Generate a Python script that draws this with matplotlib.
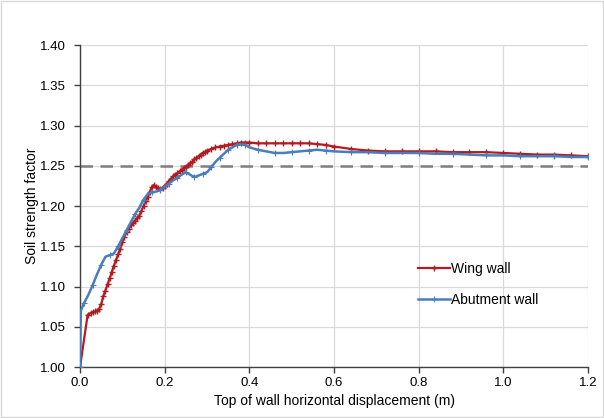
import matplotlib
matplotlib.use("Agg")
import matplotlib.pyplot as plt
from matplotlib.patches import Rectangle

plt.rcParams["font.family"] = ["Liberation Sans", "DejaVu Sans"]

# Wing wall (red)
wing_x = [0.000, 0.018, 0.025, 0.030, 0.035, 0.040, 0.045, 0.050, 0.055, 0.060,
          0.065, 0.070, 0.075, 0.080, 0.085, 0.090, 0.095, 0.100, 0.105, 0.110,
          0.115, 0.120, 0.125, 0.130, 0.135, 0.140, 0.145, 0.150, 0.155, 0.160,
          0.165, 0.170, 0.175, 0.180, 0.185, 0.190, 0.195, 0.200, 0.205, 0.210,
          0.215, 0.220, 0.225, 0.230, 0.235, 0.240, 0.245, 0.250, 0.255, 0.260,
          0.265, 0.270, 0.275, 0.280, 0.285, 0.290, 0.295, 0.300, 0.310, 0.320,
          0.330, 0.340, 0.350, 0.360, 0.370, 0.380, 0.390, 0.400, 0.420, 0.440,
          0.460, 0.480, 0.500, 0.520, 0.540, 0.560, 0.580, 0.600, 0.640, 0.680,
          0.720, 0.760, 0.800, 0.840, 0.880, 0.920, 0.960, 1.000, 1.040, 1.080,
          1.120, 1.160, 1.200]
wing_y = [1.000, 1.065, 1.067, 1.068, 1.069, 1.070, 1.072, 1.078, 1.088, 1.095,
          1.103, 1.110, 1.118, 1.126, 1.133, 1.140, 1.147, 1.155, 1.162, 1.168,
          1.172, 1.176, 1.179, 1.182, 1.185, 1.188, 1.194, 1.200, 1.206, 1.211,
          1.218, 1.224, 1.226, 1.224, 1.222, 1.221, 1.223, 1.225, 1.228, 1.231,
          1.234, 1.237, 1.239, 1.241, 1.243, 1.245, 1.247, 1.249, 1.251, 1.253,
          1.255, 1.258, 1.260, 1.262, 1.264, 1.266, 1.267, 1.269, 1.271, 1.273,
          1.274, 1.275, 1.276, 1.277, 1.278, 1.279, 1.279, 1.279, 1.278, 1.278,
          1.278, 1.278, 1.278, 1.278, 1.278, 1.277, 1.276, 1.274, 1.271, 1.269,
          1.268, 1.268, 1.268, 1.268, 1.267, 1.267, 1.267, 1.266, 1.265, 1.264,
          1.264, 1.263, 1.262]

# Abutment wall (blue)
abut_x = [0.000, 0.002, 0.010, 0.020, 0.030, 0.040, 0.050, 0.060, 0.070, 0.080,
          0.090, 0.100, 0.110, 0.120, 0.130, 0.140, 0.150, 0.160, 0.170, 0.180,
          0.190, 0.200, 0.210, 0.220, 0.230, 0.240, 0.250, 0.260, 0.270, 0.280,
          0.290, 0.300, 0.310, 0.320, 0.330, 0.340, 0.350, 0.360, 0.370, 0.380,
          0.390, 0.400, 0.420, 0.440, 0.460, 0.480, 0.500, 0.520, 0.540, 0.560,
          0.580, 0.600, 0.640, 0.680, 0.720, 0.760, 0.800, 0.840, 0.880, 0.920,
          0.960, 1.000, 1.040, 1.080, 1.120, 1.160, 1.200]
abut_y = [1.000, 1.070, 1.080, 1.090, 1.102, 1.115, 1.127, 1.137, 1.139, 1.141,
          1.150, 1.160, 1.170, 1.180, 1.190, 1.198, 1.208, 1.215, 1.217, 1.218,
          1.220, 1.224, 1.228, 1.232, 1.235, 1.239, 1.242, 1.239, 1.236, 1.238,
          1.240, 1.242, 1.248, 1.255, 1.260, 1.265, 1.270, 1.273, 1.276, 1.277,
          1.276, 1.273, 1.270, 1.268, 1.266, 1.266, 1.267, 1.268, 1.269, 1.270,
          1.269, 1.268, 1.267, 1.267, 1.266, 1.266, 1.266, 1.265, 1.265, 1.264,
          1.263, 1.263, 1.262, 1.262, 1.262, 1.261, 1.261]

target = 1.25

fig = plt.figure(figsize=(6.04, 4.18), dpi=100)
ax = fig.add_axes([0.1325, 0.122, 0.841, 0.770])

ax.axhline(target, color="#7f7f7f", lw=1.8, ls=(0, (5, 3)), zorder=2)
ax.plot(wing_x, wing_y, color="#b01c22", lw=1.6, marker="+", ms=5, mew=1.0,
        label="Wing wall", zorder=3)
ax.plot(abut_x, abut_y, color="#4a7ebb", lw=1.8, marker="+", ms=4, mew=0.8,
        markevery=2, label="Abutment wall", zorder=4)

ax.set_xlim(0, 1.2)
ax.set_ylim(1.0, 1.4)
ax.set_xticks([0.0, 0.2, 0.4, 0.6, 0.8, 1.0, 1.2])
ax.set_xticklabels(["0.0", "0.2", "0.4", "0.6", "0.8", "1.0", "1.2"])
ax.set_yticks([1.00 + 0.05 * i for i in range(9)])
ax.set_yticklabels([f"{1.00 + 0.05 * i:.2f}" for i in range(9)])
ax.grid(True, color="#d9d9d9", lw=0.9)
ax.set_axisbelow(True)
for side in ("top", "right"):
    ax.spines[side].set_visible(False)
for side in ("left", "bottom"):
    ax.spines[side].set_color("#404040")
    ax.spines[side].set_linewidth(1.0)
ax.tick_params(labelsize=9.5, colors="#404040", labelcolor="black", length=4, width=1.0)
ax.tick_params(axis="y", pad=6)

ax.set_xlabel("Top of wall horizontal displacement (m)", fontsize=10, labelpad=3)
ax.set_ylabel("Soil strength factor", fontsize=10, labelpad=1)

ax.legend(loc="upper left", bbox_to_anchor=(0.64, 0.365), frameon=False,
          fontsize=10, handlelength=2.3, handletextpad=0.1, labelspacing=1.2)

fig.patches.append(Rectangle((0.002, 0.002), 0.996, 0.996, transform=fig.transFigure,
                             fill=False, edgecolor="#d9d9d9", lw=1.0))

fig.savefig("out.png", dpi=100)
